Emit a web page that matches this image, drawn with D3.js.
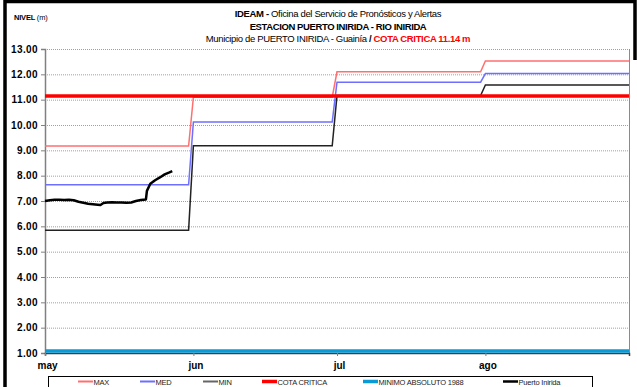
<!DOCTYPE html>
<html>
<head>
<meta charset="utf-8">
<script src="https://cdn.jsdelivr.net/npm/d3@7/dist/d3.min.js"></script>
<style>
  html, body { margin: 0; padding: 0; background: #fff; }
  svg { display: block; font-family: "Liberation Sans", Arial, sans-serif; }
</style>
</head>
<body>
<svg id="chart" width="637" height="387"></svg>
<script>
// Monthly reference levels (m): May, June, July, August
const months = ["2011-05", "2011-06", "2011-07", "2011-08"];
const maxLevels = [9.17, 11.10, 12.10, 12.53];
const medLevels = [7.64, 10.12, 11.69, 12.03];
const minLevels = [5.85, 9.18, 11.16, 11.58];
const cotaCritica = 11.14;
const minimoAbsoluto1988 = 1.08;

// Observed stage at Puerto Inirida (day of May, level in m)
const obsDay = [1, 2, 3, 4, 5, 6, 7, 8, 9, 10, 11, 12, 12.6, 13.2, 14, 15, 16, 17, 18, 19, 20, 21, 22.1, 22.3, 23, 24, 25, 26, 27, 27.6];
const obsLevel = [7.00, 7.03, 7.05, 7.05, 7.04, 7.05, 7.03, 6.97, 6.93, 6.89, 6.87, 6.85, 6.84, 6.92, 6.94, 6.95, 6.94, 6.94, 6.93, 6.94, 7.00, 7.04, 7.06, 7.40, 7.68, 7.82, 7.93, 8.05, 8.13, 8.18];

const yTicks = [1, 2, 3, 4, 5, 6, 7, 8, 9, 10, 11, 12, 13];
const monthLabels = ["may", "jun", "jul", "ago"];

const legendItems = [
  { name: "MAX", color: "#ff6f6f", width: 2 },
  { name: "MED", color: "#6f6fff", width: 2 },
  { name: "MIN", color: "#666666", width: 2 },
  { name: "COTA CRITICA", color: "#ff0000", width: 3.5 },
  { name: "MINIMO ABSOLUTO 1988", color: "#0a9ad6", width: 3.5 },
  { name: "Puerto Inirida", color: "#000000", width: 2.5 }
];

const svg = d3.select("#chart");
const parseMonth = d3.timeParse("%Y-%m");
const start = parseMonth(months[0]);
const end = d3.timeDay.offset(d3.timeMonth.offset(parseMonth(months[months.length - 1]), 1), -1);

const plot = { left: 45, right: 629, top: 49, bottom: 353 };
const x = d3.scaleTime().domain([start, end]).range([plot.left, plot.right]);
const y = d3.scaleLinear().domain([1, 13]).range([plot.bottom, plot.top]);

// Outer frame
svg.append("path")
  .attr("d", "M5,400 V1.5 H635 V60")
  .attr("fill", "none").attr("stroke", "#000").attr("stroke-width", 3.5);

// Titles
const title = svg.append("g").attr("text-anchor", "middle").attr("font-size", 9.5).attr("fill", "#000");
const t1 = title.append("text").attr("x", 338).attr("y", 17).attr("letter-spacing", -0.35);
t1.append("tspan").attr("font-weight", "bold").text("IDEAM - ");
t1.append("tspan").text("Oficina del Servicio de Pronósticos y Alertas");
title.append("text").attr("x", 338).attr("y", 29.5).attr("font-weight", "bold").attr("letter-spacing", -0.4)
  .text("ESTACION PUERTO INIRIDA - RIO INIRIDA");
const t3 = title.append("text").attr("x", 338).attr("y", 42).attr("letter-spacing", -0.35);
t3.append("tspan").text("Municipio de PUERTO INIRIDA - Guainía ");
t3.append("tspan").attr("font-weight", "bold").text(" /  ");
t3.append("tspan").attr("font-weight", "bold").attr("fill", "#ff0000").text("COTA CRITICA 11.14 m");

const yl = svg.append("text").attr("x", 14).attr("y", 20).attr("font-size", 7.5).attr("letter-spacing", -0.2);
yl.append("tspan").attr("font-weight", "bold").text("NIVEL ");
yl.append("tspan").text("(m)");

// Gridlines
svg.append("g").selectAll("line").data(yTicks.filter(d => d > 1))
  .join("line")
  .attr("x1", plot.left).attr("x2", plot.right)
  .attr("y1", d => y(d) + 0.5).attr("y2", d => y(d) + 0.5)
  .attr("stroke", "#a0a0a0").attr("stroke-width", 1).attr("stroke-dasharray", "1,1");

// Right frame of plot area
svg.append("line")
  .attr("x1", plot.right + 0.5).attr("x2", plot.right + 0.5)
  .attr("y1", plot.top).attr("y2", plot.bottom)
  .attr("stroke", "#8a8a8a").attr("stroke-width", 1);

// Y axis
const yAxis = svg.append("g").attr("transform", `translate(${plot.left},0)`)
  .call(d3.axisLeft(y).tickValues(yTicks).tickFormat(d3.format(".2f")).tickSize(4).tickPadding(3));
yAxis.select(".domain").attr("stroke", "#808080").attr("stroke-width", 1.5);
yAxis.selectAll(".tick line").attr("stroke", "#808080");
yAxis.selectAll(".tick text").attr("font-size", 10).attr("font-weight", "bold")
  .attr("font-family", "Liberation Sans, Arial, sans-serif").attr("fill", "#000").attr("letter-spacing", 0.4);

// X axis
const xAxis = svg.append("g").attr("transform", `translate(0,${plot.bottom})`)
  .call(d3.axisBottom(x).ticks(d3.timeMonth.every(1)).tickFormat((d, i) => monthLabels[i]).tickSize(3).tickPadding(6));
xAxis.select(".domain").attr("stroke", "#404040").attr("stroke-width", 1.5);
xAxis.selectAll(".tick line").attr("stroke", "#808080");
xAxis.selectAll(".tick text").attr("font-size", 10).attr("font-weight", "bold")
  .attr("font-family", "Liberation Sans, Arial, sans-serif").attr("fill", "#000").attr("dx", 2);

// Monthly step series: held constant from first to last day of each month
function monthlyPoints(values) {
  const pts = [];
  months.forEach((m, i) => {
    const first = parseMonth(m);
    const last = d3.timeDay.offset(d3.timeMonth.offset(first, 1), -1);
    pts.push([first, values[i]], [last, values[i]]);
  });
  return pts;
}
const line = d3.line().x(d => x(d[0])).y(d => y(d[1]));

const series = [
  { values: maxLevels, color: legendItems[0].color },
  { values: medLevels, color: legendItems[1].color },
  { values: minLevels, color: "#222222" }
];
series.forEach(s => {
  svg.append("path").datum(monthlyPoints(s.values))
    .attr("d", line).attr("fill", "none")
    .attr("stroke", s.color).attr("stroke-width", 1.5);
});

// Critical level and historical minimum
svg.append("path").datum([[start, cotaCritica], [end, cotaCritica]])
  .attr("d", line).attr("fill", "none").attr("stroke", "#ff0000").attr("stroke-width", 3.5);
svg.append("path").datum([[start, minimoAbsoluto1988], [end, minimoAbsoluto1988]])
  .attr("d", line).attr("fill", "none").attr("stroke", "#0a9ad6").attr("stroke-width", 3.5);

// Observed levels
const obs = obsDay.map((d, i) => [d3.timeHour.offset(start, Math.round((d - 1) * 24)), obsLevel[i]]);
svg.append("path").datum(obs)
  .attr("d", line).attr("fill", "none").attr("stroke", "#000").attr("stroke-width", 2.5)
  .attr("stroke-linejoin", "round");

// Legend
const legend = svg.append("g");
legend.append("rect").attr("x", 48.5).attr("y", 376.5).attr("width", 544).attr("height", 20)
  .attr("fill", "#fff").attr("stroke", "#000").attr("stroke-width", 1);
const legendX = [78, 140, 203, 262, 363, 503];
legendItems.forEach((it, i) => {
  const g = legend.append("g").attr("transform", `translate(${legendX[i]},381.5)`);
  g.append("line").attr("x1", 0).attr("x2", 15).attr("y1", 0).attr("y2", 0)
    .attr("stroke", it.color).attr("stroke-width", it.width);
  g.append("text").attr("x", 15.5).attr("y", 3).attr("font-size", 7.5)
    .attr("letter-spacing", -0.2).attr("fill", "#222").text(it.name);
});
</script>
</body>
</html>
